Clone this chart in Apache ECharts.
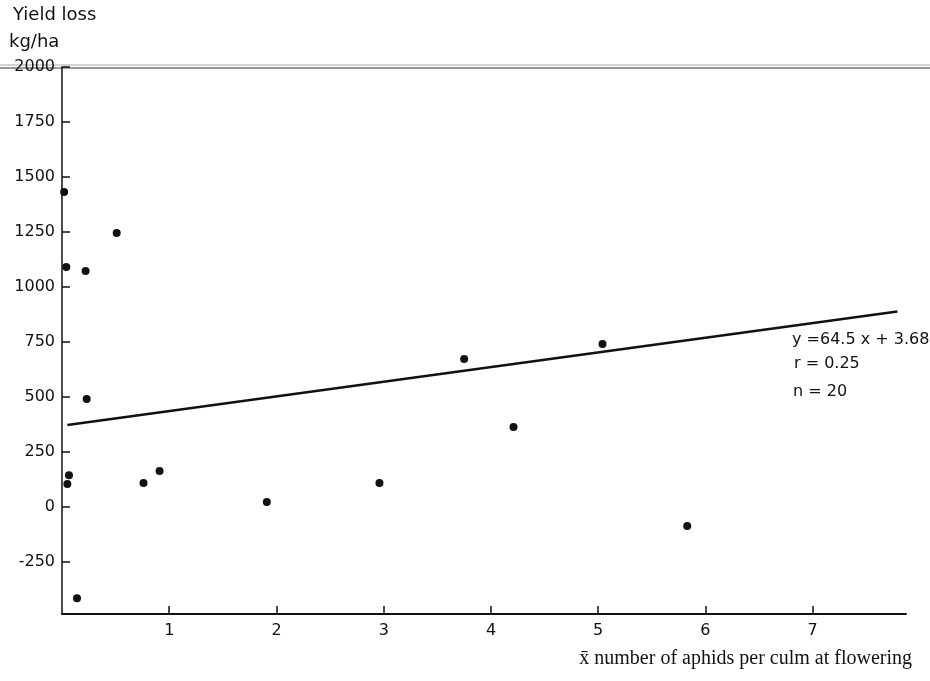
<!DOCTYPE html>
<html>
<head>
<meta charset="utf-8">
<script src="https://cdn.jsdelivr.net/npm/echarts@6/dist/echarts.min.js"></script>
<style>
  html, body { margin: 0; padding: 0; background: #fff; }
  #chart { width: 930px; height: 681px; }
</style>
</head>
<body>
<div id="chart"></div>
<script>
// aphids per culm (x) against yield loss in kg/ha (y)
const aphidsX = [0.02, 0.04, 0.22, 0.51, 0.23, 0.065, 0.05, 0.76, 0.91, 0.14, 1.91, 2.96, 3.75, 4.21, 5.04, 5.83];
const yieldLoss = [1432, 1091, 1073, 1245, 491, 145, 105, 109, 164, -414, 23, 109, 673, 364, 741, -86];

// regression line end points as drawn
const fitX = [0.05, 7.79];
const fitY = [373, 889];

const yTicks = [-250, 0, 250, 500, 750, 1000, 1250, 1500, 1750, 2000];
const xTicks = [1, 2, 3, 4, 5, 6, 7];

const statLines = ['y =64.5 x + 3.68', 'r = 0.25', 'n = 20'];

const chart = echarts.init(document.getElementById('chart'));

const points = aphidsX.map((x, i) => [x, yieldLoss[i]]);
const fitLine = fitX.map((x, i) => [x, fitY[i]]);

const sans = 'DejaVu Sans';

const option = {
  backgroundColor: '#fff',
  animation: false,
  grid: {
    left: 62, right: 24, top: 67, bottom: 67,
    outerBoundsMode: 'none'
  },
  xAxis: {
    type: 'value',
    min: 0,
    max: 7.87,
    splitLine: { show: false },
    axisLine: { onZero: false, lineStyle: { color: '#111', width: 2 } },
    axisTick: {
      inside: true, length: 8, customValues: xTicks,
      lineStyle: { color: '#111', width: 1.5 }
    },
    axisLabel: {
      customValues: xTicks, margin: 9,
      color: '#111', fontFamily: sans, fontSize: 16,
      formatter: v => String(v)
    }
  },
  yAxis: {
    type: 'value',
    min: -486,
    max: 2000,
    splitLine: { show: false },
    axisLine: { onZero: false, lineStyle: { color: '#111', width: 1.5 } },
    axisTick: {
      inside: true, length: 8, customValues: yTicks,
      lineStyle: { color: '#111', width: 1.5 }
    },
    axisLabel: {
      customValues: yTicks, margin: 7,
      color: '#111', fontFamily: sans, fontSize: 16,
      formatter: v => String(v)
    }
  },
  series: [
    {
      type: 'scatter',
      data: points,
      symbol: 'circle',
      symbolSize: 8,
      itemStyle: { color: '#111', opacity: 1 }
    },
    {
      type: 'line',
      data: fitLine,
      symbol: 'none',
      lineStyle: { color: '#111', width: 2.5 }
    }
  ],
  graphic: [
    // double rule across the top of the figure
    { type: 'line', shape: { x1: 0, y1: 65, x2: 930, y2: 65 }, style: { stroke: '#aaa', lineWidth: 1 } },
    { type: 'line', shape: { x1: 0, y1: 68, x2: 930, y2: 68 }, style: { stroke: '#777', lineWidth: 1.5 } },
    {
      type: 'text', left: 13, top: 6,
      style: { text: 'Yield loss', font: '18px "DejaVu Sans"', fill: '#111' }
    },
    {
      type: 'text', left: 9, top: 33,
      style: { text: 'kg/ha', font: '18px "DejaVu Sans"', fill: '#111' }
    },
    {
      type: 'text', left: 792, top: 332,
      style: { text: statLines[0], font: '16px "DejaVu Sans"', fill: '#111' }
    },
    {
      type: 'text', left: 794, top: 356,
      style: { text: statLines[1], font: '16px "DejaVu Sans"', fill: '#111' }
    },
    {
      type: 'text', left: 793, top: 384,
      style: { text: statLines[2], font: '16px "DejaVu Sans"', fill: '#111' }
    },
    {
      type: 'text', right: 18, top: 649,
      style: {
        text: 'x\u0304 number of aphids per culm at flowering',
        font: '20px "Liberation Serif"', fill: '#111'
      }
    }
  ]
};

chart.setOption(option);
</script>
</body>
</html>
